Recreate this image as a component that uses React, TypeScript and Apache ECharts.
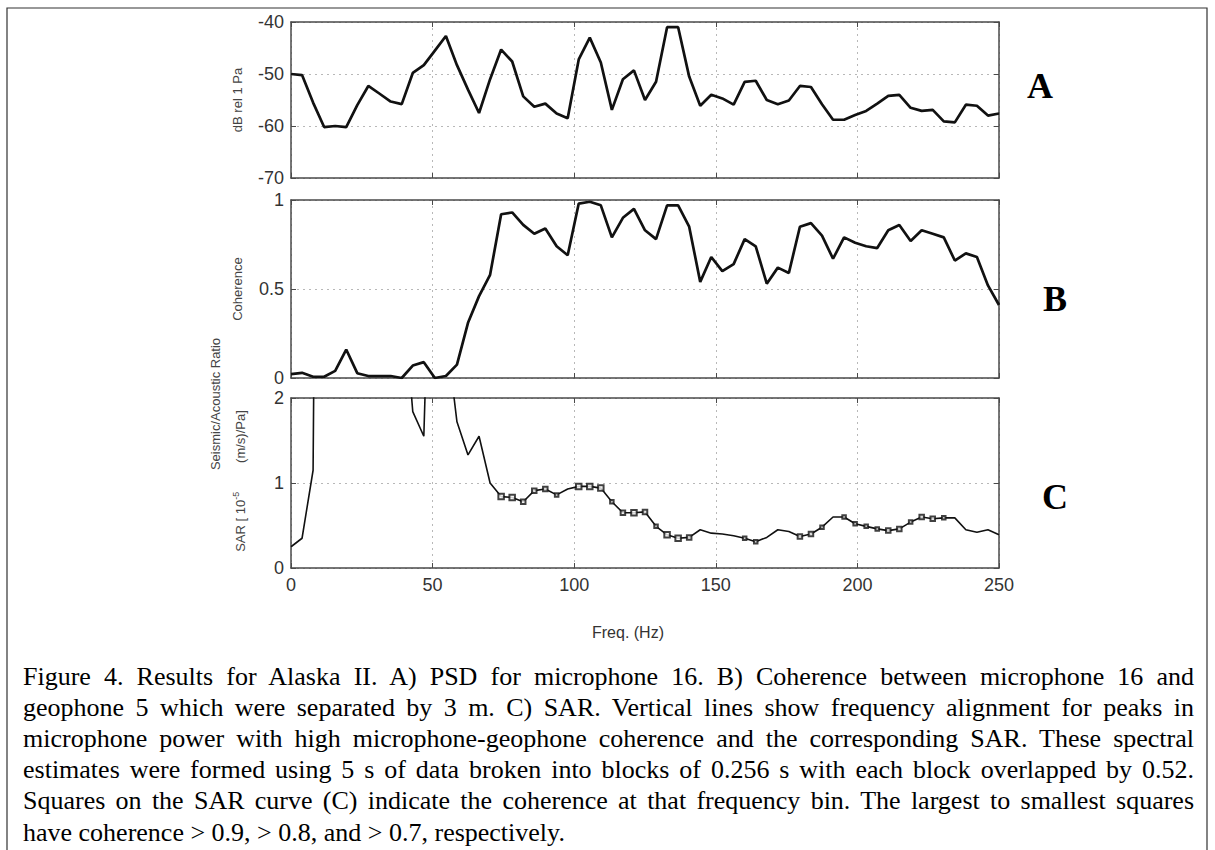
import React, { useEffect, useRef } from "react";
import * as echarts from "echarts";

// Frequency bins (Hz)
const freq = [
  0, 3.9, 7.8, 11.7, 15.6, 19.5, 23.4, 27.3, 31.3, 35.2, 39.1, 43.0, 46.9, 50.8, 54.7, 58.6,
  62.5, 66.4, 70.3, 74.2, 78.1, 82.0, 85.9, 89.8, 93.8, 97.7, 101.6, 105.5, 109.4, 113.3, 117.2,
  121.1, 125.0, 128.9, 132.8, 136.7, 140.6, 144.5, 148.4, 152.3, 156.3, 160.2, 164.1, 168.0,
  171.9, 175.8, 179.7, 183.6, 187.5, 191.4, 195.3, 199.2, 203.1, 207.0, 210.9, 214.8, 218.8,
  222.7, 226.6, 230.5, 234.4, 238.3, 242.2, 246.1, 250.0,
];

// A) PSD for microphone 16 (dB rel 1 Pa)
const psdDb = [
  -50, -50.2, -55.5, -60.2, -60, -60.2, -56, -52.3, -53.8, -55.3, -55.8, -49.8, -48.3, -45.5,
  -42.7, -48.3, -53, -57.5, -51, -45.3, -47.6, -54.3, -56.3, -55.7, -57.6, -58.5, -47.2, -43,
  -47.8, -56.9, -51, -49.3, -55, -51.5, -41, -41, -50.5, -56.1, -54, -54.7, -55.9, -51.5, -51.3,
  -55, -55.8, -55.1, -52.3, -52.5, -55.8, -58.8, -58.8, -57.9, -57.1, -55.7, -54.2, -54, -56.5,
  -57.1, -56.9, -59.1, -59.3, -55.9, -56.1, -58, -57.6,
];

// B) Coherence between microphone 16 and geophone 5
const coherence = [
  0.022, 0.029, 0.007, 0.007, 0.04, 0.16, 0.027, 0.011, 0.011, 0.011, 0.0, 0.07, 0.089, 0.0,
  0.011, 0.075, 0.31, 0.46, 0.58, 0.92, 0.93, 0.86, 0.81, 0.84, 0.74, 0.69, 0.98, 0.99, 0.97,
  0.79, 0.9, 0.95, 0.83, 0.78, 0.97, 0.97, 0.85, 0.54, 0.68, 0.6, 0.64, 0.78, 0.74, 0.53, 0.62,
  0.59, 0.85, 0.87, 0.8, 0.67, 0.79, 0.76, 0.74, 0.73, 0.83, 0.86, 0.77, 0.83, 0.81, 0.79, 0.66,
  0.7, 0.68, 0.52, 0.41,
];

// C) SAR [1e-5 (m/s)/Pa]  (values above 2 run off the top of the axes)
const sar = [
  0.25, 0.35, 1.15, 18, 14, 12, 10, 9, 8, 6, 3.4, 1.84, 1.55, 5.9, 2.8, 1.72, 1.33, 1.55, 1.0,
  0.84, 0.83, 0.78, 0.91, 0.93, 0.86, 0.93, 0.96, 0.96, 0.94, 0.78, 0.65, 0.65, 0.66, 0.49, 0.39,
  0.35, 0.36, 0.45, 0.41, 0.4, 0.38, 0.35, 0.31, 0.36, 0.45, 0.43, 0.37, 0.4, 0.48, 0.6, 0.6,
  0.52, 0.49, 0.46, 0.44, 0.46, 0.54, 0.6, 0.58, 0.59, 0.59, 0.45, 0.42, 0.45, 0.39,
];

// Coherence thresholds for the squares on the SAR curve (largest to smallest)
const coherenceClasses = [0.9, 0.8, 0.7];

const panelLetters = ["A", "B", "C"];
const yTitleA = "dB rel 1 Pa";
const yTitleB = "Coherence";
const yTitleC1 = "Seismic/Acoustic Ratio";
const xTitle = "Freq. (Hz)";

const captionLines = [
  "Figure 4.  Results for Alaska II.  A) PSD for microphone 16.  B) Coherence between microphone 16 and",
  "geophone 5 which were separated by 3 m.  C) SAR. Vertical lines show frequency alignment for peaks in",
  "microphone power with high microphone-geophone coherence and the corresponding SAR. These spectral",
  "estimates were formed using 5 s of data broken into blocks of 0.256 s with each block overlapped by 0.52.",
  "Squares on the SAR curve (C) indicate the coherence at that frequency bin. The largest to smallest squares",
  "have coherence > 0.9,  > 0.8, and > 0.7, respectively.",
];

const SANS = '"Liberation Sans", Arial, Helvetica, sans-serif';
const SERIF = '"Liberation Serif", "Times New Roman", serif';

export default function App() {
  const ref = useRef<HTMLDivElement>(null);

  useEffect(() => {
    if (!ref.current) return;
    const chart = echarts.init(ref.current, null, { renderer: "svg" });

    const plotLeft = 291;
    const plotWidth = 708;
    const grids = [
      { top: 22, height: 156 },
      { top: 200, height: 178 },
      { top: 398, height: 170 },
    ];
    const yRanges = [
      { min: -70, max: -40, interval: 10 },
      { min: 0, max: 1, interval: 0.5 },
      { min: 0, max: 2, interval: 1 },
    ];
    const axisColor = "#4a4a4a";
    const tickLabelColor = "#333";
    const gridLine = { color: "#b8b8b8", type: [2, 4] as any, width: 1 };

    const xAxes: any[] = [];
    const yAxes: any[] = [];
    grids.forEach((_, i) => {
      xAxes.push({
        type: "value",
        gridIndex: i,
        min: 0,
        max: 250,
        interval: 50,
        position: "bottom",
        axisLine: { show: true, onZero: false, lineStyle: { color: axisColor, width: 1.5 } },
        axisTick: { show: true, inside: true, length: 5, lineStyle: { color: axisColor } },
        axisLabel: {
          show: i === 2,
          color: tickLabelColor,
          fontSize: 18,
          fontFamily: SANS,
          margin: 8,
        },
        splitLine: { show: true, lineStyle: gridLine },
      });
      yAxes.push({
        type: "value",
        gridIndex: i,
        ...yRanges[i],
        position: "left",
        axisLine: { show: true, onZero: false, lineStyle: { color: axisColor, width: 1.5 } },
        axisTick: { show: true, inside: true, length: 5, lineStyle: { color: axisColor } },
        axisLabel: { color: tickLabelColor, fontSize: 18, fontFamily: SANS, margin: 7 },
        splitLine: { show: true, lineStyle: gridLine },
      });
    });
    grids.forEach((_, i) => {
      xAxes.push({
        type: "value",
        gridIndex: i,
        min: 0,
        max: 250,
        interval: 50,
        position: "top",
        axisLine: { show: true, onZero: false, lineStyle: { color: axisColor, width: 1.5 } },
        axisTick: { show: true, inside: true, length: 5, lineStyle: { color: axisColor } },
        axisLabel: { show: false },
        splitLine: { show: false },
      });
      yAxes.push({
        type: "value",
        gridIndex: i,
        ...yRanges[i],
        position: "right",
        axisLine: { show: true, onZero: false, lineStyle: { color: axisColor, width: 1.5 } },
        axisTick: { show: true, inside: true, length: 5, lineStyle: { color: axisColor } },
        axisLabel: { show: false },
        splitLine: { show: false },
      });
    });

    const markerSizes = [5.5, 4.5, 3.5];
    const markerData: any[] = [];
    freq.forEach((f, i) => {
      const c = coherence[i];
      const k = coherenceClasses.findIndex((t) => c > t);
      if (k >= 0) markerData.push({ value: [f, sar[i]], symbolSize: markerSizes[k] });
    });

    const letterPos = [
      { x: 1040, y: 86 },
      { x: 1055, y: 299 },
      { x: 1055, y: 497 },
    ];

    const yTitleStyle = (text: string) => ({
      text,
      fontSize: 13,
      fontFamily: SANS,
      fill: "#444",
      align: "center",
      verticalAlign: "middle",
    });

    const option: any = {
      animation: false,
      backgroundColor: "#fff",
      grid: grids.map((g) => ({
        left: plotLeft,
        width: plotWidth,
        top: g.top,
        height: g.height,
        containLabel: false,
      })),
      xAxis: xAxes,
      yAxis: yAxes,
      series: [
        {
          type: "line",
          xAxisIndex: 0,
          yAxisIndex: 0,
          data: freq.map((f, i) => [f, psdDb[i]]),
          showSymbol: false,
          lineStyle: { color: "#111", width: 2.7 },
          z: 5,
        },
        {
          type: "line",
          xAxisIndex: 1,
          yAxisIndex: 1,
          data: freq.map((f, i) => [f, coherence[i]]),
          showSymbol: false,
          lineStyle: { color: "#111", width: 2.7 },
          z: 5,
        },
        {
          type: "line",
          xAxisIndex: 2,
          yAxisIndex: 2,
          data: freq.map((f, i) => [f, sar[i]]),
          showSymbol: false,
          clip: true,
          lineStyle: { color: "#111", width: 1.6 },
          z: 5,
        },
        {
          type: "scatter",
          xAxisIndex: 2,
          yAxisIndex: 2,
          data: markerData,
          symbol: "emptyRect",
          itemStyle: { color: "#111", borderColor: "#111", borderWidth: 1.4 },
          z: 6,
        },
      ],
      graphic: [
        {
          type: "rect",
          silent: true,
          shape: { x: 7, y: 8, width: 1200, height: 870 },
          style: { fill: "none", stroke: "#333", lineWidth: 1.2 },
        },
        ...panelLetters.map((t, i) => ({
          type: "text",
          x: letterPos[i].x,
          y: letterPos[i].y,
          style: {
            text: t,
            fontSize: 36,
            fontWeight: "bold",
            fontFamily: SERIF,
            fill: "#000",
            align: "center",
            verticalAlign: "middle",
          },
        })),
        { type: "text", x: 237, y: 100, rotation: Math.PI / 2, style: yTitleStyle(yTitleA) },
        { type: "text", x: 237, y: 289, rotation: Math.PI / 2, style: yTitleStyle(yTitleB) },
        { type: "text", x: 215, y: 404, rotation: Math.PI / 2, style: yTitleStyle(yTitleC1) },
        {
          type: "text",
          x: 240,
          y: 481,
          rotation: Math.PI / 2,
          style: {
            text: "{a|SAR [ 10}{b|-5}{a|        (m/s)/Pa]}",
            fontFamily: SANS,
            fill: "#444",
            align: "center",
            verticalAlign: "middle",
            rich: {
              a: { fontSize: 13, fontFamily: SANS, fill: "#444", lineHeight: 18, verticalAlign: "middle" },
              b: { fontSize: 9, fontFamily: SANS, fill: "#444", verticalAlign: "top" },
            },
          },
        },
        {
          type: "text",
          x: 628,
          y: 632,
          style: {
            text: xTitle,
            fontSize: 16,
            fontFamily: SANS,
            fill: "#333",
            align: "center",
            verticalAlign: "middle",
          },
        },
      ],
    };

    chart.setOption(option);
    return () => chart.dispose();
  }, []);

  const last = captionLines.length - 1;
  return (
    <div
      style={{
        position: "fixed",
        left: 0,
        top: 0,
        width: 1215,
        height: 850,
        background: "#fff",
        overflow: "hidden",
      }}
    >
      <div ref={ref} style={{ position: "absolute", left: 0, top: 0, width: 1215, height: 850 }} />
      {captionLines.map((line, i) => (
        <div
          key={i}
          style={{
            position: "absolute",
            left: 23,
            width: 1171,
            top: 662 + i * 31.1,
            height: 30,
            lineHeight: "30px",
            fontFamily: SERIF,
            fontSize: 26,
            color: "#000",
            whiteSpace: "nowrap",
            textAlign: i < last ? "justify" : "left",
            textAlignLast: i < last ? "justify" : "left",
          }}
        >
          {line}
        </div>
      ))}
    </div>
  );
}
